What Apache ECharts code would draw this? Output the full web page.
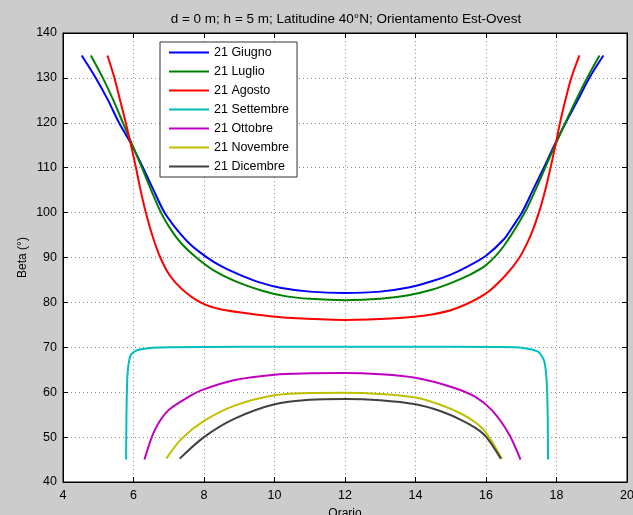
<!DOCTYPE html>
<html>
<head>
<meta charset="utf-8">
<script src="https://cdn.jsdelivr.net/npm/echarts@6/dist/echarts.min.js"></script>
<style>
  html, body { margin: 0; padding: 0; background: #cccccc; }
  #chart { width: 633px; height: 515px; }
</style>
</head>
<body>
<div id="chart"></div>
<script>
// Sun angle beta (degrees) against time of day, one curve per month (21st day).
const seriesNames = ['21 Giugno', '21 Luglio', '21 Agosto', '21 Settembre', '21 Ottobre', '21 Novembre', '21 Dicembre'];
const seriesColors = ['#0000ff', '#008000', '#ff0000', '#00bfbf', '#bf00bf', '#bfbf00', '#404040'];

const xTicks = [4, 6, 8, 10, 12, 14, 16, 18, 20];
const yTicks = [40, 50, 60, 70, 80, 90, 100, 110, 120, 130, 140];

// [hour, beta]
const giugno = [[4.53,135],[4.93,130],[5.28,125],[5.59,120],[5.94,115.2],[6.27,110],[6.57,105],[6.88,100],[7.22,96.3],[7.6,93],[8.05,90.2],[8.5,88],[9,86.2],[9.6,84.4],[10.2,83.2],[11,82.4],[12,82.1],[13,82.4],[13.8,83.3],[14.46,84.7],[15,86.2],[15.5,88.1],[16,90.4],[16.5,94],[16.75,96.8],[17.02,100],[17.33,105],[17.64,110],[17.94,115],[18.26,120],[18.6,125],[18.93,130],[19.33,135]];
const luglio = [[4.79,135],[5.13,130],[5.43,125],[5.7,120],[5.96,115.2],[6.24,110],[6.5,105],[6.78,100],[7.06,96.2],[7.37,93],[7.78,90],[8.3,87],[8.95,84.5],[9.65,82.6],[10.3,81.4],[11,80.8],[12,80.5],[13,80.8],[13.8,81.6],[14.46,82.8],[15,84.3],[15.5,86],[16,88.3],[16.5,92.5],[17.1,100],[17.4,105],[17.68,110],[17.96,115],[18.25,120],[18.55,125],[18.87,130],[19.22,135]];
const agosto = [[5.26,135],[5.46,130],[5.62,125],[5.78,120],[5.93,115],[6.07,110],[6.2,105],[6.35,100],[6.53,95],[6.76,90],[7.03,86],[7.37,83],[7.9,80],[8.5,78.4],[9.6,77.2],[10.5,76.5],[12,76.1],[13.3,76.4],[14.46,77.3],[15.2,78.8],[16,82],[16.55,86],[16.95,90],[17.27,95],[17.5,100],[17.68,105],[17.83,110],[17.97,115],[18.1,120],[18.25,125],[18.42,130],[18.65,135]];
const settembre = [[5.79,45],[5.8,55],[5.82,62.6],[5.86,66.3],[5.93,68.4],[6.08,69.3],[6.41,69.8],[7,70],[9,70.1],[12,70.1],[15,70.1],[16.84,70],[17.22,69.6],[17.5,68.9],[17.65,67],[17.72,62.6],[17.75,55.2],[17.76,45]];
const ottobre = [[6.31,45],[6.6,51.5],[6.98,55.9],[7.55,58.9],[7.92,60.4],[8.87,62.7],[10,63.9],[11,64.2],[12,64.3],[13,64],[14,63.2],[15.04,61.1],[15.71,58.9],[16.18,55.9],[16.65,50.7],[16.98,45]];
const novembre = [[6.93,45.2],[7.36,49.6],[8,53.6],[8.87,57],[10,59.3],[11,59.8],[12,59.9],[13,59.6],[14,58.8],[14.7,57.2],[15.3,55.2],[15.71,53.2],[16,51],[16.45,45.2]];
const dicembre = [[7.31,45.2],[8,50],[8.87,54.1],[10,57.3],[11,58.3],[12,58.5],[13,58.2],[14,57.3],[14.7,55.8],[15.3,53.8],[15.71,52],[16,50.1],[16.42,45.2]];

const seriesData = [giugno, luglio, agosto, settembre, ottobre, novembre, dicembre];
// the September curve has sharp corners, so it is smoothed less
const seriesSmooth = [0.3, 0.3, 0.3, 0.15, 0.3, 0.3, 0.3];

const font = "'Liberation Sans', Arial, Helvetica, sans-serif";
const gridLine = { show: true, lineStyle: { color: '#8c8c8c', type: [1, 3], width: 1 } };

const chart = echarts.init(document.getElementById('chart'), null, { renderer: 'canvas' });
chart.setOption({
  backgroundColor: '#cccccc',
  animation: false,
  title: {
    text: 'd = 0 m; h = 5 m; Latitudine 40°N; Orientamento Est-Ovest',
    left: 341, top: 7, textAlign: 'center',
    textStyle: { fontFamily: font, fontSize: 13.5, fontWeight: 'normal', color: '#000' }
  },
  grid: {
    left: 63, right: 6, top: 33, bottom: 33,
    outerBoundsMode: 'none', containLabel: false,
    show: true, backgroundColor: '#ffffff', borderColor: '#000', borderWidth: 1
  },
  legend: {
    data: seriesNames,
    orient: 'vertical',
    left: 160, top: 42,
    itemWidth: 40, itemHeight: 14, itemGap: 6,
    padding: [4, 8, 4, 8],
    backgroundColor: '#ffffff',
    borderColor: '#333333', borderWidth: 1,
    itemStyle: { opacity: 0 },
    textStyle: { fontFamily: font, fontSize: 12.5, color: '#000' }
  },
  xAxis: [{
    type: 'value', min: xTicks[0], max: xTicks[xTicks.length - 1], interval: 2,
    name: 'Orario', nameLocation: 'middle', nameGap: 26, nameMoveOverlap: false,
    nameTextStyle: { fontFamily: font, fontSize: 12, color: '#000' },
    axisLine: { show: true, lineStyle: { color: '#000' } },
    axisTick: { show: true, inside: true, length: 5, lineStyle: { color: '#000' } },
    axisLabel: { fontFamily: font, fontSize: 12.5, color: '#000', margin: 7 },
    splitLine: gridLine
  }, {
    type: 'value', position: 'top', min: xTicks[0], max: xTicks[xTicks.length - 1], interval: 2,
    axisLine: { show: true, lineStyle: { color: '#000' } },
    axisTick: { show: true, inside: true, length: 5, lineStyle: { color: '#000' } },
    axisLabel: { show: false }, splitLine: { show: false }
  }],
  yAxis: [{
    type: 'value', min: yTicks[0], max: yTicks[yTicks.length - 1], interval: 10,
    name: 'Beta (°)', nameLocation: 'middle', nameGap: 34, nameRotate: 90, nameMoveOverlap: false,
    nameTextStyle: { fontFamily: font, fontSize: 12, color: '#000' },
    axisLine: { show: true, lineStyle: { color: '#000' } },
    axisTick: { show: true, inside: true, length: 5, lineStyle: { color: '#000' } },
    axisLabel: { fontFamily: font, fontSize: 12.5, color: '#000', margin: 6 },
    splitLine: gridLine
  }, {
    type: 'value', position: 'right', min: yTicks[0], max: yTicks[yTicks.length - 1], interval: 10,
    axisLine: { show: true, lineStyle: { color: '#000' } },
    axisTick: { show: true, inside: true, length: 5, lineStyle: { color: '#000' } },
    axisLabel: { show: false }, splitLine: { show: false }
  }],
  series: seriesNames.map((name, i) => ({
    name: name,
    type: 'line',
    data: seriesData[i],
    symbol: 'none',
    smooth: seriesSmooth[i],
    color: seriesColors[i],
    lineStyle: { width: 2, color: seriesColors[i] }
  }))
});
</script>
</body>
</html>
